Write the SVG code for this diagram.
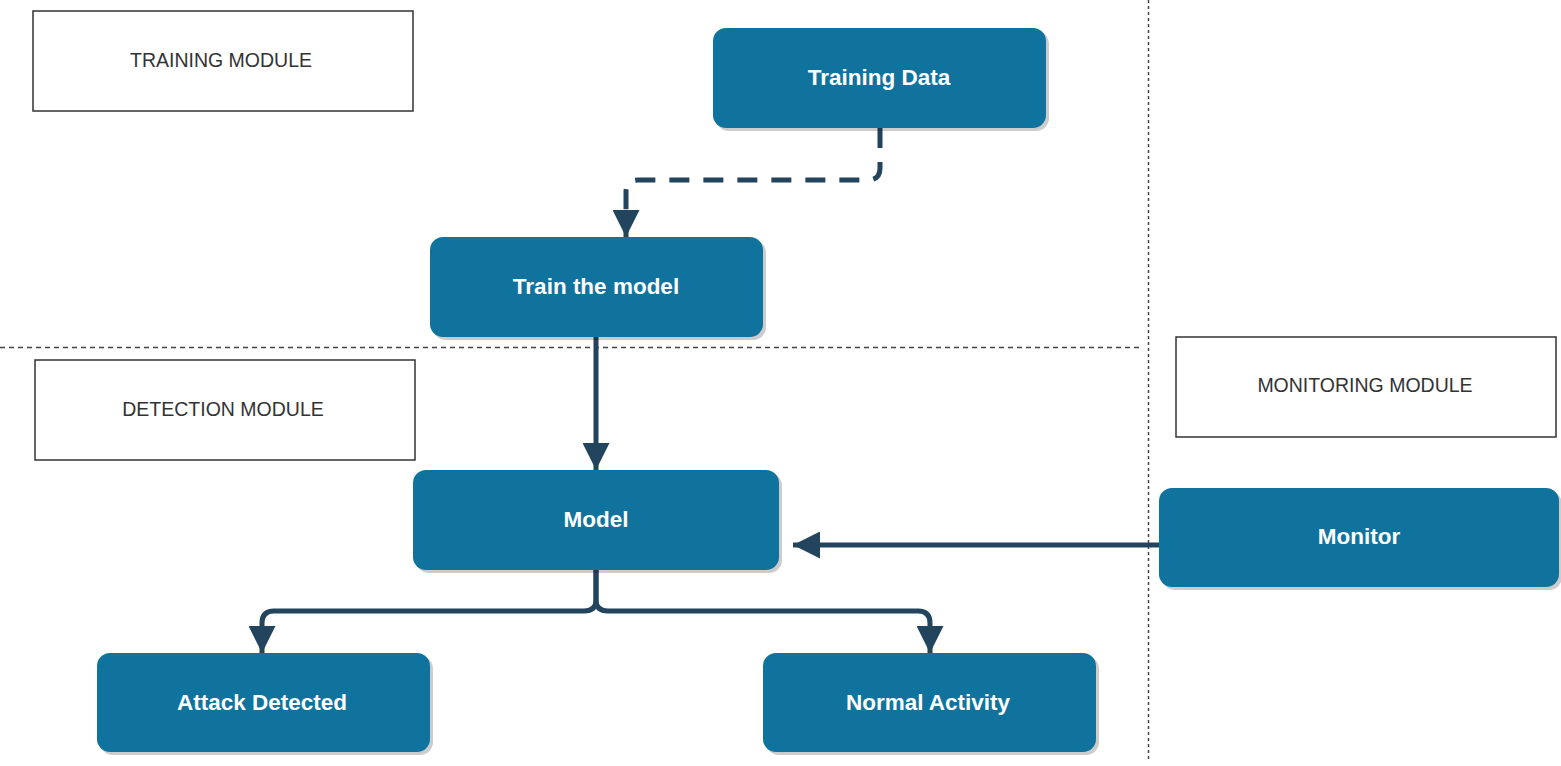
<svg xmlns="http://www.w3.org/2000/svg" width="1561" height="766" viewBox="0 0 1561 766">
<style>
.mod{fill:#fff;stroke:#333;stroke-width:1.5}
.modt{font-family:"Liberation Sans",Arial,sans-serif;font-size:19.5px;fill:#333;text-anchor:middle;dominant-baseline:central}
.nd{fill:#10739E}
.sh{fill:#000;opacity:0.2}
.ndt{font-family:"Liberation Sans",Arial,sans-serif;font-size:22.5px;font-weight:bold;fill:#fff;text-anchor:middle;dominant-baseline:central}
.cn{fill:none;stroke:#23445D;stroke-width:5}
.sep{fill:none;stroke:#444;stroke-width:1.5}
</style>
<defs>
<marker id="ah" viewBox="0 0 10 10" refX="10" refY="5" markerWidth="5.4" markerHeight="5.4" markerUnits="strokeWidth" orient="auto">
<path d="M0,0 L10,5 L0,10 Z" fill="#23445D"/>
</marker>
</defs>
<rect width="1561" height="766" fill="#fff"/>
<g id="separators">
<line class="sep" x1="0" y1="347.5" x2="1143" y2="347.5" stroke-dasharray="5 4"/>
<line class="sep" x1="1148.5" y1="0" x2="1148.5" y2="762" stroke-dasharray="3 3"/>
</g>
<g id="training-module"><rect class="mod" x="33" y="11" width="380" height="100"/><text class="modt" x="221" y="60">TRAINING MODULE</text></g>
<g id="detection-module"><rect class="mod" x="35" y="360" width="380" height="100"/><text class="modt" x="223" y="409">DETECTION MODULE</text></g>
<g id="monitoring-module"><rect class="mod" x="1176" y="337" width="380" height="100"/><text class="modt" x="1365" y="385">MONITORING MODULE</text></g>
<g id="connectors">
<path class="cn" d="M880,128 V168 Q880,180 868,180 H638 Q626,180 626,192 V237" stroke-dasharray="20 14" marker-end="url(#ah)"/>
<path class="cn" d="M596,337 V470" marker-end="url(#ah)"/>
<path class="cn" d="M1159,545 H793" marker-end="url(#ah)"/>
<path class="cn" d="M596,570 V600 Q596,611 584,611 H274 Q262,611 262,623 V653" marker-end="url(#ah)"/>
<path class="cn" d="M596,570 V600 Q596,611 608,611 H918 Q930,611 930,623 V653" marker-end="url(#ah)"/>
</g>
<g id="training-data"><rect class="sh" x="716" y="31" width="333" height="100" rx="13"/><rect class="nd" x="713" y="28" width="333" height="100" rx="13"/><text class="ndt" x="879" y="77">Training Data</text></g>
<g id="train-model"><rect class="sh" x="433" y="240" width="333" height="100" rx="13"/><rect class="nd" x="430" y="237" width="333" height="100" rx="13"/><text class="ndt" x="596" y="286">Train the model</text></g>
<g id="model"><rect class="sh" x="416" y="473" width="366" height="100" rx="13"/><rect class="nd" x="413" y="470" width="366" height="100" rx="13"/><text class="ndt" x="596" y="519">Model</text></g>
<g id="monitor"><rect class="sh" x="1162" y="491" width="400" height="99" rx="13"/><rect class="nd" x="1159" y="488" width="400" height="99" rx="13"/><text class="ndt" x="1359" y="536">Monitor</text></g>
<g id="attack-detected"><rect class="sh" x="100" y="656" width="333" height="99" rx="13"/><rect class="nd" x="97" y="653" width="333" height="99" rx="13"/><text class="ndt" x="262" y="702">Attack Detected</text></g>
<g id="normal-activity"><rect class="sh" x="766" y="656" width="333" height="99" rx="13"/><rect class="nd" x="763" y="653" width="333" height="99" rx="13"/><text class="ndt" x="928" y="702">Normal Activity</text></g>
</svg>
